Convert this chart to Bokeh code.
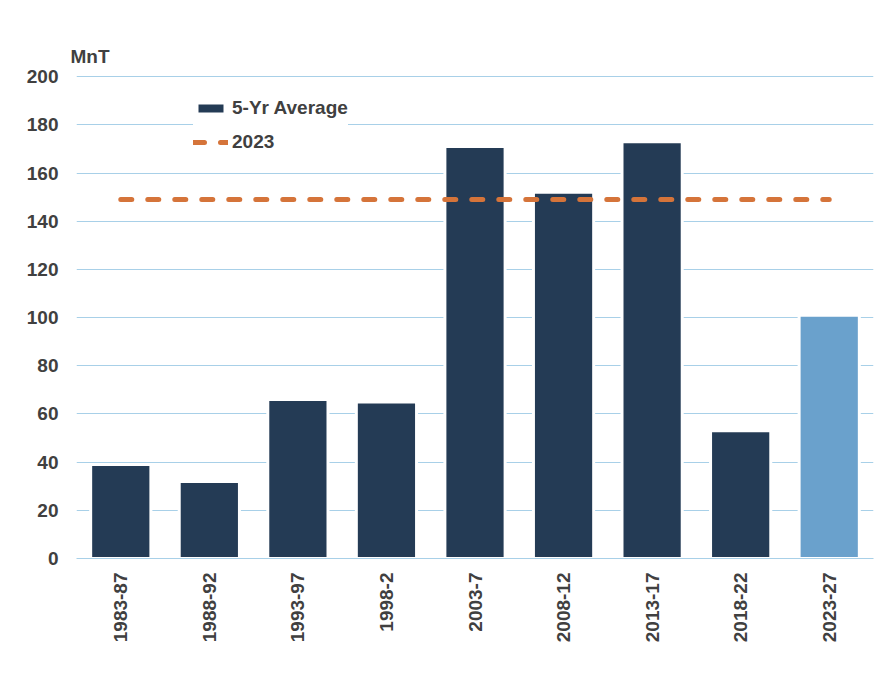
import math
from bokeh.plotting import figure
from bokeh.models import ColumnDataSource, Legend, LegendItem, FixedTicker
from bokeh.embed import file_html
from bokeh.resources import INLINE

# ---- data ----
periods = ["1983-87", "1988-92", "1993-97", "1998-2", "2003-7",
           "2008-12", "2013-17", "2018-22", "2023-27"]
avg_5yr = [39, 32, 66, 65, 171, 152, 173, 53, 101]
value_2023 = [149, 149, 149, 149, 149, 149, 149, 149, 149]
forecast_periods = ["2023-27"]
y_ticks = [0, 20, 40, 60, 80, 100, 120, 140, 160, 180, 200]
unit_label = "MnT"

# ---- styles ----
NAVY = "#243b55"
LIGHT = "#6aa1cc"
ORANGE = "#d5743a"
GRID = "#a8d0e8"
TEXT = "#404040"
FONT = "Liberation Sans"
FS = "19px"

colors = [LIGHT if p in forecast_periods else NAVY for p in periods]
src = ColumnDataSource(dict(period=periods, avg=avg_5yr, v2023=value_2023, color=colors))

p = figure(x_range=periods, y_range=(0, 200.5), width=887, height=668,
           output_backend="svg", toolbar_location=None,
           min_border_left=76, min_border_right=14, min_border_top=75, min_border_bottom=110)
p.outline_line_color = None
p.background_fill_color = "white"
p.border_fill_color = "white"

# unit label as title
p.title.text = unit_label
p.title.align = "left"
p.title.offset = -6
p.title.standoff = 17
p.title.text_font = FONT
p.title.text_font_size = FS
p.title.text_font_style = "bold"
p.title.text_color = TEXT

bars = p.vbar(x="period", top="avg", width=0.68, source=src,
              fill_color="color", line_color="white", line_width=3)
line = p.line(x="period", y="v2023", source=src, line_color=ORANGE, line_width=5,
              line_dash="11 16", line_cap="round")

# axes
p.xgrid.grid_line_color = None
p.ygrid.grid_line_color = GRID
p.ygrid.grid_line_width = 1
p.yaxis.ticker = FixedTicker(ticks=y_ticks)
p.yaxis.axis_line_color = None
p.yaxis.major_tick_line_color = None
p.yaxis.minor_tick_line_color = None
p.yaxis.major_label_standoff = 12
p.xaxis.axis_line_color = GRID
p.xaxis.major_tick_line_color = None
p.xaxis.minor_tick_line_color = None
p.xaxis.major_label_standoff = 8
p.xaxis.major_label_orientation = math.pi / 2
for ax in (p.xaxis, p.yaxis):
    ax.major_label_text_font = FONT
    ax.major_label_text_font_size = FS
    ax.major_label_text_font_style = "bold"
    ax.major_label_text_color = TEXT

legend = Legend(items=[LegendItem(label="5-Yr Average", renderers=[bars]),
                       LegendItem(label="2023", renderers=[line])],
                location=(117, 405), orientation="vertical",
                glyph_width=35, glyph_height=14, label_standoff=4,
                spacing=12, padding=8, margin=0,
                label_text_font=FONT, label_text_font_size=FS,
                label_text_font_style="bold", label_text_color=TEXT,
                background_fill_color="white", background_fill_alpha=1.0,
                border_line_color=None)
p.add_layout(legend, "center")

open("out.html", "w").write(file_html(p, INLINE))
